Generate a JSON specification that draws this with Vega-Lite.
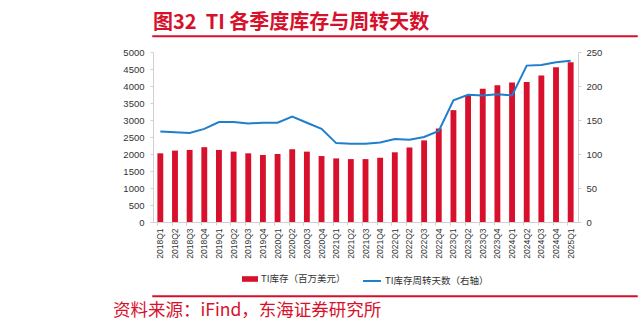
{
  "$schema": "https://vega.github.io/schema/vega-lite/v6.json",
  "background": "white",
  "padding": {"left": 113, "top": 12, "right": 5, "bottom": 5},
  "config": {
    "view": {"stroke": null},
    "font": "Liberation Sans",
    "legend": {"layout": {"bottom": {"anchor": "middle", "margin": 16}}}
  },
  "title": {
    "text": "资料来源：iFind，东海证券研究所",
    "orient": "bottom",
    "anchor": "start",
    "font": "Noto Sans CJK SC",
    "fontSize": 17.5,
    "fontWeight": "normal",
    "color": "#D7102B",
    "offset": 5
  },
  "spacing": 9,
  "resolve": {
    "legend": {"fill": "independent", "stroke": "independent"}
  },
  "vconcat": [
    {
      "width": 484,
      "height": 0.5,
      "view": {"stroke": "#D7102B", "strokeWidth": 1.5, "fill": "#D7102B"},
      "title": {
        "text": "图32\u00a0\u00a0TI 各季度库存与周转天数",
        "anchor": "start",
        "font": "Noto Sans CJK SC",
        "fontSize": 20,
        "fontWeight": "bold",
        "color": "#D7102B",
        "offset": 3
      },
      "data": {"values": [{"s": 0, "e": 1, "b": 0, "t": 1}]},
      "mark": {"type": "rect", "fill": "#D7102B"},
      "encoding": {
        "x": {"field": "s", "type": "quantitative", "axis": null, "scale": {"domain": [0, 1]}},
        "x2": {"field": "e"},
        "y": {"field": "b", "type": "quantitative", "axis": null, "scale": {"domain": [0, 1]}},
        "y2": {"field": "t"}
      }
    },
    {
      "width": 425,
      "height": 170,
      "data": {
        "values": [
          {"q": "2018Q1", "inv": 2020, "days": 133},
          {"q": "2018Q2", "inv": 2100, "days": 132},
          {"q": "2018Q3", "inv": 2120, "days": 131},
          {"q": "2018Q4", "inv": 2200, "days": 137},
          {"q": "2019Q1", "inv": 2120, "days": 147},
          {"q": "2019Q2", "inv": 2070, "days": 147},
          {"q": "2019Q3", "inv": 2020, "days": 145},
          {"q": "2019Q4", "inv": 1970, "days": 146},
          {"q": "2020Q1", "inv": 2000, "days": 146},
          {"q": "2020Q2", "inv": 2140, "days": 155},
          {"q": "2020Q3", "inv": 2070, "days": 146},
          {"q": "2020Q4", "inv": 1940, "days": 137},
          {"q": "2021Q1", "inv": 1870, "days": 116},
          {"q": "2021Q2", "inv": 1850, "days": 115},
          {"q": "2021Q3", "inv": 1850, "days": 115},
          {"q": "2021Q4", "inv": 1890, "days": 117},
          {"q": "2022Q1", "inv": 2050, "days": 122},
          {"q": "2022Q2", "inv": 2190, "days": 121},
          {"q": "2022Q3", "inv": 2400, "days": 125},
          {"q": "2022Q4", "inv": 2750, "days": 134},
          {"q": "2023Q1", "inv": 3290, "days": 179},
          {"q": "2023Q2", "inv": 3720, "days": 187},
          {"q": "2023Q3", "inv": 3920, "days": 186},
          {"q": "2023Q4", "inv": 4020, "days": 188},
          {"q": "2024Q1", "inv": 4100, "days": 186},
          {"q": "2024Q2", "inv": 4120, "days": 230},
          {"q": "2024Q3", "inv": 4310, "days": 231},
          {"q": "2024Q4", "inv": 4550, "days": 235},
          {"q": "2025Q1", "inv": 4700, "days": 237}
        ]
      },
      "encoding": {
        "x": {
          "field": "q",
          "type": "nominal",
          "sort": null,
          "scale": {"paddingInner": 0.6, "paddingOuter": 0.3},
          "axis": {
            "title": null,
            "labelAngle": -90,
            "labelFontSize": 8.5,
            "labelColor": "#333333",
            "domainColor": "#d0d0d0",
            "tickColor": "#d0d0d0",
            "tickSize": 3,
            "bandPosition": 0,
            "labelPadding": 3
          }
        }
      },
      "layer": [
        {
          "mark": {"type": "bar"},
          "encoding": {
            "y": {
              "field": "inv",
              "type": "quantitative",
              "scale": {"domain": [0, 5000]},
              "axis": {
                "title": null,
                "orient": "left",
                "tickCount": 10,
                "format": "d",
                "grid": false,
                "labelFontSize": 9.5,
                "labelColor": "#333333",
                "domainColor": "#d0d0d0",
                "tickColor": "#d0d0d0",
                "tickSize": 3,
                "labelPadding": 6,
                "minExtent": 40
              }
            },
            "fill": {
              "datum": "TI库存（百万美元）",
              "scale": {"range": ["#D7102B"]},
              "legend": {
                "title": null,
                "orient": "bottom",
                "direction": "horizontal",
                "offset": 12,
                "labelFont": "Noto Sans CJK SC",
                "labelFontSize": 9.5,
                "labelColor": "#333333",
                "labelOffset": 3,
                "symbolType": "M-1,-0.35L1,-0.35L1,0.35L-1,0.35Z",
                "symbolSize": 256,
                "symbolStrokeWidth": 0
              }
            }
          }
        },
        {
          "mark": {"type": "line", "strokeWidth": 2},
          "encoding": {
            "y": {
              "field": "days",
              "type": "quantitative",
              "scale": {"domain": [0, 250]},
              "axis": {
                "title": null,
                "orient": "right",
                "tickCount": 5,
                "grid": false,
                "labelFontSize": 9.5,
                "labelColor": "#333333",
                "domainColor": "#d0d0d0",
                "tickColor": "#d0d0d0",
                "tickSize": 3,
                "labelPadding": 5
              }
            },
            "stroke": {
              "datum": "TI库存周转天数（右轴）",
              "scale": {"range": ["#1F7FCC"]},
              "legend": {
                "title": null,
                "orient": "bottom",
                "direction": "horizontal",
                "offset": 12,
                "labelFont": "Noto Sans CJK SC",
                "labelFontSize": 9.5,
                "labelColor": "#333333",
                "labelOffset": 3,
                "symbolType": "stroke",
                "symbolSize": 324,
                "symbolStrokeWidth": 2
              }
            }
          }
        }
      ],
      "resolve": {"scale": {"y": "independent"}}
    },
    {
      "width": 484,
      "height": 0.5,
      "view": {"stroke": "#D7102B", "strokeWidth": 1.5, "fill": "#D7102B"},
      "data": {"values": [{"s": 0, "e": 1, "b": 0, "t": 1}]},
      "mark": {"type": "rect", "fill": "#D7102B"},
      "encoding": {
        "x": {"field": "s", "type": "quantitative", "axis": null, "scale": {"domain": [0, 1]}},
        "x2": {"field": "e"},
        "y": {"field": "b", "type": "quantitative", "axis": null, "scale": {"domain": [0, 1]}},
        "y2": {"field": "t"}
      }
    }
  ]
}
